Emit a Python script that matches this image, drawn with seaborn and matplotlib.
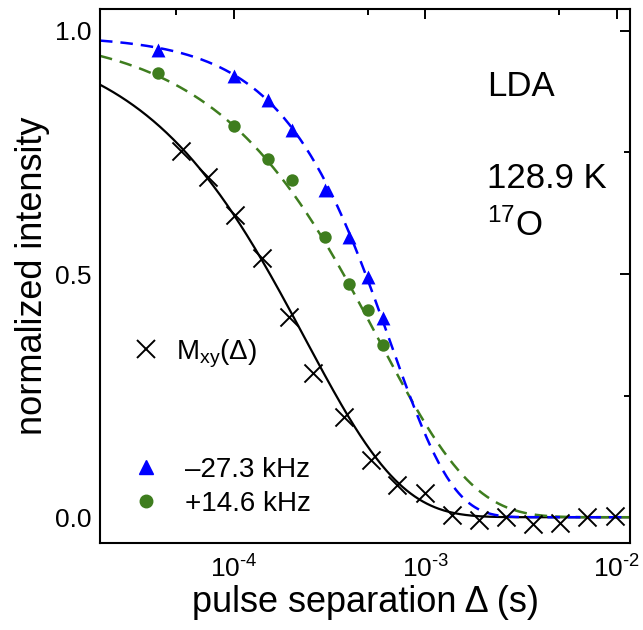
import numpy as np
import pandas as pd
import matplotlib
matplotlib.use("Agg")
import matplotlib.pyplot as plt
import seaborn as sns
from matplotlib.ticker import (LogLocator, MultipleLocator, NullFormatter,
                               FormatStrFormatter, FuncFormatter)
from matplotlib.lines import Line2D

sns.set_style("white")
plt.rcParams['font.family'] = ['Liberation Sans', 'DejaVu Sans']
plt.rcParams['mathtext.fontset'] = 'custom'
plt.rcParams['mathtext.rm'] = 'Liberation Sans'
plt.rcParams['mathtext.it'] = 'Liberation Sans'
plt.rcParams['mathtext.default'] = 'regular'
plt.rcParams['text.color'] = 'black'
plt.rcParams['axes.labelcolor'] = 'black'
plt.rcParams['axes.unicode_minus'] = False

# ---- data ----
t_mxy = [5.3e-5, 7.3e-5, 1.01e-4, 1.41e-4, 1.94e-4, 2.6e-4, 3.75e-4, 5.2e-4, 7.1e-4,
         9.9e-4, 1.37e-3, 1.9e-3, 2.63e-3, 3.65e-3, 5.04e-3, 7.0e-3, 9.8e-3]
y_mxy = [0.752, 0.699, 0.621, 0.532, 0.412, 0.296, 0.206, 0.117, 0.067,
         0.049, 0.004, -0.005, 0.001, -0.014, -0.012, 0.001, 0.002]

t_freq = [4e-5, 1e-4, 1.5e-4, 2e-4, 3e-4, 4e-4, 5e-4, 6e-4]
y_neg = [0.961, 0.907, 0.858, 0.796, 0.673, 0.577, 0.494, 0.409]   # -27.3 kHz
y_pos = [0.914, 0.805, 0.736, 0.693, 0.577, 0.479, 0.426, 0.354]   # +14.6 kHz

# fit parameters (stretched exponential A*exp(-(t/tau)^beta))
fit_mxy = dict(A=1.0, tau=2.35e-4, beta=0.87)
fit_neg = dict(A=0.99, tau=6.5e-4, beta=1.32)
fit_pos = dict(A=1.0, tau=5.66e-4, beta=0.88)

label_mxy = r"M$_{xy}$(Δ)"
label_neg = "–27.3 kHz"
label_pos = "+14.6 kHz"

c_blue = "#0000FF"
c_green = "#3E7D1E"

def model(t, A, tau, beta):
    return A * np.exp(-(t / tau) ** beta)

def pow10_label(v, pos):
    e = int(round(np.log10(v)))
    return r"10$^{\text{-}%d}$" % (-e) if e < 0 else r"10$^{%d}$" % e

tt = np.logspace(np.log10(2e-5), np.log10(1.2e-2), 400)

fig = plt.figure(figsize=(6.43, 6.30), dpi=100)
ax = fig.add_axes([100/643, 1-543/630, 530/643, 534/630])

df_fit = pd.DataFrame({"t": tt,
                       "mxy": model(tt, **fit_mxy),
                       "neg": model(tt, **fit_neg),
                       "pos": model(tt, **fit_pos)})

sns.lineplot(data=df_fit, x="t", y="mxy", ax=ax, color="black", lw=1.6)
sns.lineplot(data=df_fit, x="t", y="pos", ax=ax, color=c_green, lw=1.8)
sns.lineplot(data=df_fit, x="t", y="neg", ax=ax, color=c_blue, lw=1.8)
for ln in ax.lines[1:]:
    ln.set_dashes((5, 3.2))

sns.scatterplot(x=t_mxy, y=y_mxy, ax=ax, marker="x", color="black", s=169,
                linewidth=1.4, zorder=5)
sns.scatterplot(x=t_freq, y=y_neg, ax=ax, marker="^", color=c_blue, s=100,
                linewidth=0, zorder=5)
sns.scatterplot(x=t_freq, y=y_pos, ax=ax, marker="o", color=c_green, s=80,
                linewidth=0, zorder=5)

ax.set_xscale("log")
ax.set_xlim(2.0e-5, 1.17e-2)
ax.set_ylim(-0.053, 1.045)
ax.xaxis.set_major_locator(LogLocator(base=10, numticks=10))
ax.xaxis.set_major_formatter(FuncFormatter(pow10_label))
ax.xaxis.set_minor_locator(LogLocator(base=10, subs=[5], numticks=10))
ax.xaxis.set_minor_formatter(NullFormatter())
ax.yaxis.set_major_locator(MultipleLocator(0.5))
ax.yaxis.set_minor_locator(MultipleLocator(0.25))
ax.yaxis.set_major_formatter(FormatStrFormatter("%.1f"))

ax.tick_params(which="both", direction="in", top=True, right=True, width=1.4,
               labelsize=19, colors="black", labelcolor="black")
ax.tick_params(which="major", length=7)
ax.tick_params(which="minor", length=4)
ax.tick_params(axis="x", pad=9)
ax.tick_params(axis="y", pad=6)
for sp in ax.spines.values():
    sp.set_visible(True)
    sp.set_linewidth(1.5)
    sp.set_color("black")

ax.set_xlabel("pulse separation Δ (s)", fontsize=26, labelpad=2)
ax.set_ylabel("normalized intensity", fontsize=26, labelpad=4)

ax.text(0.731, 0.837, "LDA", transform=ax.transAxes, fontsize=25, va="baseline")
ax.text(0.731, 0.665, "128.9 K", transform=ax.transAxes, fontsize=25, va="baseline")
ax.text(0.731, 0.575, "$^{17}$O", transform=ax.transAxes, fontsize=25, va="baseline")

h1 = [Line2D([], [], marker="x", color="black", ls="none", ms=13, mew=1.4)]
leg1 = ax.legend(h1, [label_mxy], loc="center left", bbox_to_anchor=(0.008, 0.355),
                 frameon=False, fontsize=20, handletextpad=0.5, handlelength=1.2)
ax.add_artist(leg1)
h2 = [Line2D([], [], marker="^", color=c_blue, ls="none", ms=10),
      Line2D([], [], marker="o", color=c_green, ls="none", ms=9)]
ax.legend(h2, [label_neg, label_pos], loc="center left", bbox_to_anchor=(0.008, 0.105),
          frameon=False, fontsize=20, handletextpad=0.8, handlelength=1.2,
          labelspacing=0.3)

fig.savefig("out.png", dpi=100)
